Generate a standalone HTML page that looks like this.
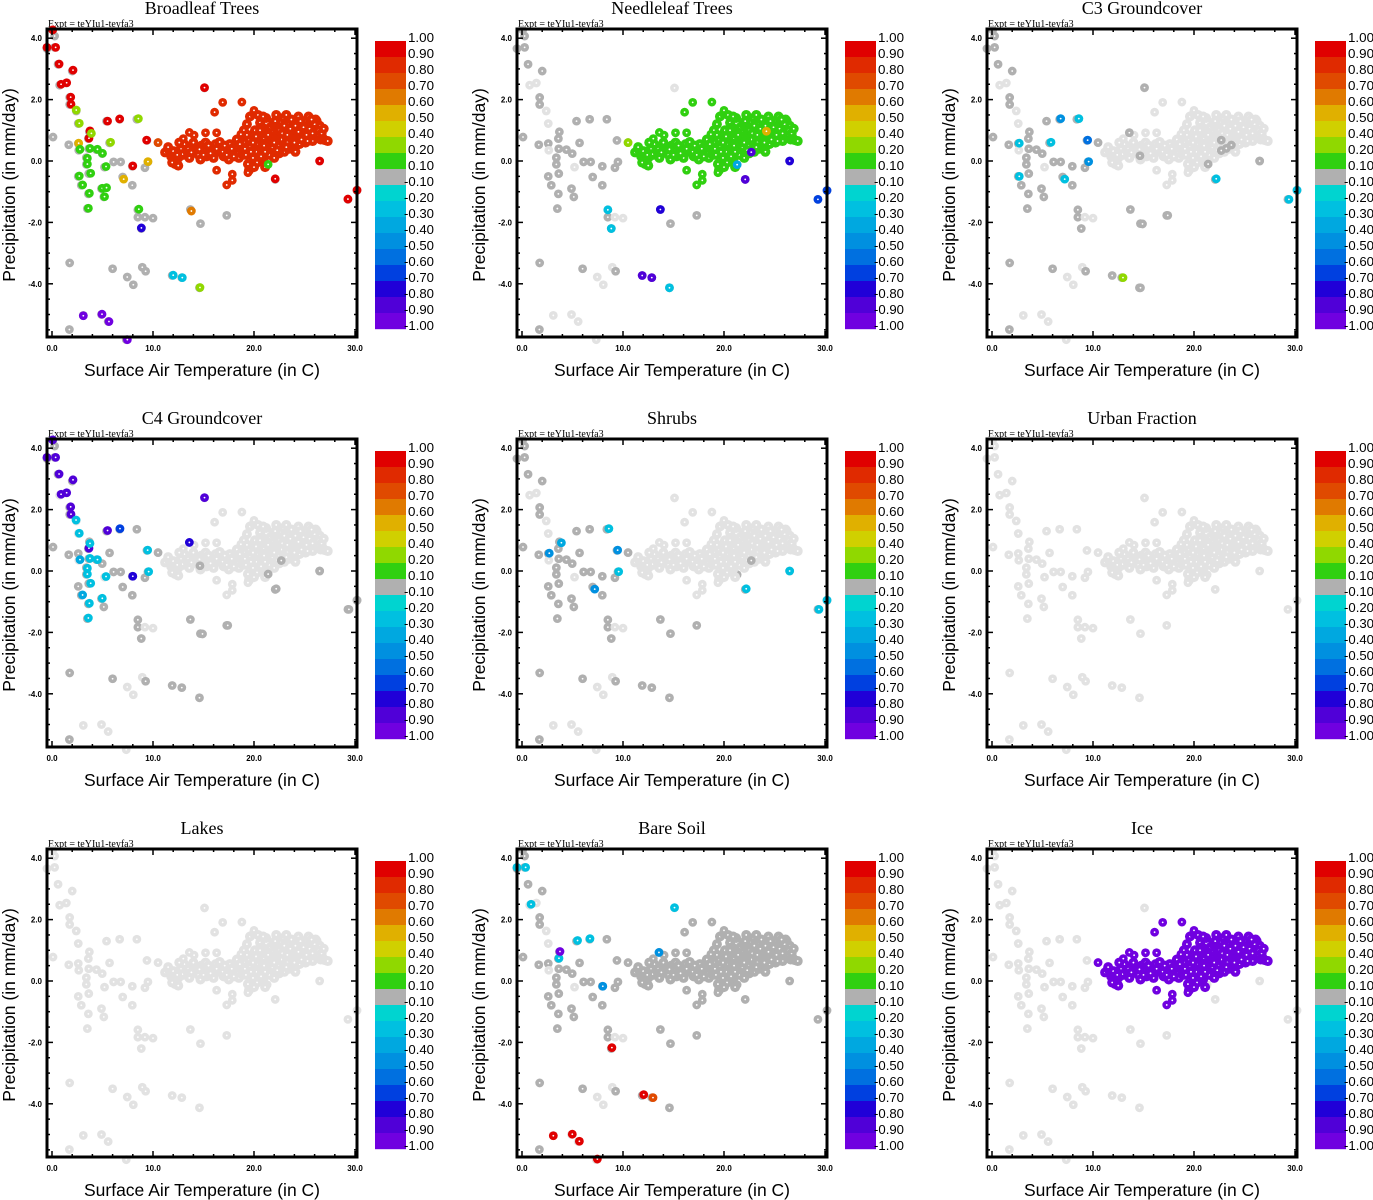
<!DOCTYPE html>
<html><head><meta charset="utf-8"><title>Land cover fractions scatter</title>
<style>
html,body{margin:0;padding:0;background:#fff;}
svg{display:block;}
.ttl{font-family:"Liberation Serif",serif;font-size:18px;}
.expt{font-family:"Liberation Serif",serif;font-size:10px;}
.axl{font-family:"Liberation Sans",sans-serif;font-size:17.5px;}
.tk{font-family:"Liberation Sans",sans-serif;font-size:8px;font-weight:bold;}
.cb{font-family:"Liberation Sans",sans-serif;font-size:13px;}
</style></head>
<body>
<svg id="chart" width="1373" height="1200" viewBox="0 0 1373 1200" xmlns="http://www.w3.org/2000/svg"></svg>
<script>
// ---- data ----
const panelTitles = ["Broadleaf Trees","Needleleaf Trees","C3 Groundcover","C4 Groundcover","Shrubs","Urban Fraction","Lakes","Bare Soil","Ice"];
const xTicks = [0,10,20,30];
const xTickLabels = ["0.0","10.0","20.0","30.0"];
const yTicks = [4,2,0,-2,-4];
const yTickLabels = ["4.0","2.0","0.0","-2.0","-4.0"];
const cbLabels = ["1.00","0.90","0.80","0.70","0.60","0.50","0.40","0.20","0.10","-0.10","-0.20","-0.30","-0.40","-0.50","-0.60","-0.70","-0.80","-0.90","-1.00"];
const cbBounds = [1,0.9,0.8,0.7,0.6,0.5,0.4,0.2,0.1,-0.1,-0.2,-0.3,-0.4,-0.5,-0.6,-0.7,-0.8,-0.9,-1.0];
const cbColors = ["#e00000","#e02a00","#e04a00","#e07a00","#e0b000","#d0d000","#90d800","#30d010","#b0b0b0","#00d4d0","#00c0e0","#00a8e0","#0090e0","#0070e0","#0040e0","#2000d8","#5000d8","#7000e0"];
// cold/scattered points: [temperature, precipitation, shade(1 dark,0 light)]
const coldPts = [[-0.5,3.66,1],[0.26,4.07,1],[0.26,3.70,1],[0.6,3.15,1],[0.76,2.47,0],[1.42,2.54,0],[2.0,2.93,1],[1.75,2.07,1],[1.75,1.84,1],[2.4,1.63,0],[2.6,1.22,0],[0.1,0.78,1],[1.66,0.53,1],[2.6,0.57,1],[2.65,0.35,0],[3.7,0.95,1],[3.6,0.73,1],[3.64,0.40,1],[4.4,0.37,1],[4.97,0.24,1],[5.4,1.30,1],[5.7,0.59,1],[6.7,1.36,1],[8.4,1.36,1],[9.4,0.67,1],[3.4,0.11,1],[3.4,-0.11,1],[2.6,-0.5,1],[2.9,-0.79,1],[3.64,-0.41,1],[3.6,-1.07,1],[3.5,-1.55,1],[4.9,-0.9,1],[5.13,-1.17,1],[5.2,-0.2,0],[6.1,-0.03,1],[6.8,-0.03,1],[7.0,-0.52,1],[7.95,-0.17,1],[7.95,-0.79,1],[9.2,-0.22,1],[9.5,-0.03,1],[8.5,-1.83,1],[9.2,-1.83,0],[10.0,-1.86,0],[8.5,-1.59,1],[8.84,-2.2,1],[13.7,-1.58,1],[14.7,-2.04,1],[17.3,-1.77,1],[1.75,-3.32,1],[6.0,-3.51,1],[7.45,-3.78,0],[8.05,-4.03,0],[8.94,-3.46,0],[9.27,-3.59,1],[11.9,-3.73,1],[12.85,-3.8,1],[14.6,-4.13,1],[3.1,-5.03,0],[4.9,-5.0,0],[5.56,-5.23,0],[1.72,-5.49,1],[7.35,-5.82,0],[15.1,2.38,0],[10.5,0.6,1],[21.3,-0.12,1],[22.1,-0.6,1],[26.5,0.0,1],[29.3,-1.25,1],[30.2,-0.96,1],[0.07,4.27,1]];
// warm cluster points: [temperature, precipitation]
const clusterPts = [[11.2,0.28],[11.6,0.35],[11.8,0.15],[12.0,0.05],[12.2,-0.1],[12.5,-0.15],[12.3,0.3],[12.8,0.4],[13.0,0.2],[13.3,0.35],[13.6,0.1],[13.9,0.45],[14.2,0.3],[14.5,0.2],[14.8,0.5],[15.0,0.35],[15.3,0.15],[15.6,0.4],[15.9,0.25],[16.2,0.55],[16.5,0.3],[16.8,0.45],[17.0,0.15],[17.3,0.35],[17.6,0.55],[17.9,0.25],[18.2,0.45],[18.5,0.1],[18.8,0.35],[19.0,0.6],[13.1,0.55],[14.0,0.6],[15.2,0.6],[16.0,0.1],[17.5,0.05],[18.3,0.7],[12.6,0.6],[11.5,0.45],[14.7,0.05],[16.6,0.62],
[12.0,0.32],[12.9,0.22],[13.5,0.4],[14.3,0.42],[15.0,0.2],[15.7,0.25],[16.3,0.4],[17.1,0.5],[17.8,0.4],[18.6,0.55],[12.5,0.1],[13.8,0.28],[16.9,0.3],[18.0,0.15],[11.9,-0.05],[12.4,0.2],[14.6,0.38],[15.5,0.5],[17.3,0.2],[18.9,0.2],
[19.2,0.2],[19.4,-0.1],[19.5,-0.3],[19.6,0.45],[19.8,0.85],[19.9,0.1],[20.1,1.0],[20.2,0.3],[20.3,-0.05],[20.5,0.65],[20.6,1.25],[20.8,0.4],[20.9,0.05],[21.0,0.9],[21.2,1.4],[21.3,0.6],[21.5,0.2],[21.6,1.1],[21.8,0.45],[21.9,0.8],[19.3,1.2],[19.6,1.45],[20.0,1.55],[20.4,1.5],[20.9,1.45],[19.0,1.0],[19.5,0.7],[20.7,0.15],[21.1,-0.2],[20.0,-0.2],
[19.1,0.4],[19.7,0.3],[20.3,0.55],[20.5,0.85],[20.8,1.1],[21.1,0.3],[21.4,0.85],[21.7,0.6],[19.9,0.6],[20.2,0.8],[19.3,0.85],[21.0,0.5],[20.6,1.0],[21.9,1.2],
[22.1,1.3],[22.3,0.9],[22.4,0.5],[22.6,1.1],[22.7,0.7],[22.9,1.4],[23.0,0.3],[23.1,0.95],[23.3,0.6],[23.4,1.2],[23.6,0.8],[23.7,1.35],[23.9,0.5],[24.0,1.0],[24.2,0.75],[24.3,1.25],[24.5,0.55],[24.6,1.05],[24.8,0.85],[25.0,1.3],[25.1,0.6],[25.3,1.0],[25.5,0.8],[25.6,1.2],[25.8,0.65],[26.0,1.0],[26.1,1.35],[26.3,0.85],[26.5,1.15],[26.6,0.7],[26.8,0.75],[27.0,0.68],[27.3,0.65],[22.0,0.1],[22.5,0.25],[23.5,0.4],[24.1,0.3],[22.2,1.5],[23.2,1.5],[24.4,1.45],[25.4,1.45],[26.2,1.3],
[22.2,0.7],[22.5,1.0],[22.8,0.9],[23.0,1.15],[23.3,0.85],[23.6,1.05],[23.9,0.7],[24.1,1.15],[24.4,0.95],[24.7,0.7],[24.9,1.1],[25.2,0.85],[25.5,1.05],[25.8,0.9],[26.0,1.2],[26.4,1.0],[26.7,0.9],[26.9,1.05],[22.3,0.35],[23.2,0.45],[24.6,1.3],[25.7,1.35],[22.0,0.6],[24.0,0.6],[25.3,0.65]];
// per-panel base values: null = light grey (none), number = colour value
const clusterValues = [0.85,0.15,null,null,null,null,null,0,-0.95];
const coldModes = ["dark","shade","shade","shade","shade","light","light","shade","light"];
// outlier points belonging to the cluster (same colour as cluster)
const clusterOutliers = [[16.1,1.59],[16.9,1.91],[18.8,1.92],[13.6,0.93],[13.0,0.73],[14.07,0.84],[15.2,0.92],[16.3,0.92],[16.3,-0.3],[17.3,-0.78],[17.85,-0.43],[17.85,-0.63],[19.4,-0.38],[18.7,0.87],[20.0,1.65]];
// per-panel coloured overlay points [T,P,value]
const overlay1 = [[0.07,4.27,0.95],[-0.5,3.7,0.95],[0.36,3.7,0.95],[0.7,3.16,0.95],[2.08,2.96,0.95],[0.9,2.5,0.95],[1.45,2.55,0.95],[1.85,2.08,0.95],[1.88,1.85,0.95],[5.5,1.3,0.95],[6.7,1.37,0.95],[3.76,0.98,0.95],[3.66,0.74,0.95],[9.37,0.68,0.95],[8.0,-0.16,0.95],[15.1,2.39,0.95],[26.5,0,0.95],[22.1,-0.58,0.95],[29.3,-1.24,0.95],[30.2,-0.95,0.95],[10.5,0.6,0.75],
[2.4,1.66,0.35],[2.7,1.23,0.35],[8.55,1.38,0.35],[5.8,0.61,0.35],[3.9,0.9,0.35],[14.65,-4.12,0.35],[2.64,0.58,0.55],[9.5,-0.02,0.55],[7.1,-0.59,0.55],[13.8,-1.63,0.65],
[2.77,0.38,0.15],[3.76,0.41,0.15],[4.5,0.38,0.15],[5.0,0.25,0.15],[3.5,0.09,0.15],[3.5,-0.1,0.15],[5.35,-0.18,0.15],[2.7,-0.49,0.15],[3.83,-0.40,0.15],[3.03,-0.78,0.15],[3.7,-1.05,0.15],[4.98,-0.89,0.15],[5.4,-0.87,0.15],[5.2,-1.16,0.15],[3.6,-1.54,0.15],[8.6,-1.57,0.15],[21.4,-0.11,0.15],
[12.0,-3.72,-0.25],[12.9,-3.8,-0.25],[8.85,-2.18,-0.75],[3.1,-5.04,-0.95],[4.95,-4.99,-0.95],[5.64,-5.23,-0.95],[7.46,-5.82,-0.95]];
const overlay2 = [[10.5,0.6,0.35],[8.5,-1.59,-0.25],[8.84,-2.2,-0.25],[13.7,-1.58,-0.75],[11.9,-3.73,-0.85],[12.85,-3.8,-0.85],[14.6,-4.13,-0.25],[21.3,-0.12,-0.35],[22.1,-0.6,-0.85],[26.5,0,-0.75],[22.7,0.29,-0.85],[29.3,-1.25,-0.65],[30.2,-0.96,-0.65],[24.2,0.97,0.55]];
const overlay3 = [[13.6,0.92,0],[14.65,0.17,0],[22.7,0.68,0],[22.7,0.34,0],[23.2,0.41,0],[23.7,0.52,0],[21.4,-0.1,0],[26.5,0,0],[15.1,2.39,0],[17.4,-1.77,0],[14.9,-2.05,0],[14.7,-4.13,0],
[2.7,0.58,-0.25],[5.84,0.61,-0.25],[8.6,1.38,-0.25],[2.7,-0.5,-0.25],[7.2,-0.59,-0.25],[22.2,-0.58,-0.25],[29.4,-1.25,-0.25],[30.2,-0.95,-0.25],[6.8,1.38,-0.45],[9.47,0.68,-0.55],[9.57,-0.02,-0.45],[12.97,-3.8,0.3]];
const overlay4 = [[14.65,0.17,0],[22.7,0.34,0],[21.4,-0.1,0],[22.2,-0.58,0],[26.5,0,0],[17.4,-1.77,0],[14.9,-2.05,0],[29.4,-1.25,0],[30.2,-0.95,0],
[0.07,4.27,-0.9],[-0.5,3.7,-0.9],[0.36,3.7,-0.9],[0.7,3.16,-0.9],[2.08,2.97,-0.9],[0.9,2.5,-0.9],[1.45,2.55,-0.9],[1.85,2.09,-0.9],[1.88,1.85,-0.9],[15.1,2.39,-0.9],[5.5,1.32,-0.9],[3.66,0.74,-0.9],
[6.73,1.38,-0.65],[13.6,0.93,-0.75],[8.0,-0.17,-0.75],
[2.38,1.66,-0.25],[2.7,1.23,-0.3],[3.76,0.9,-0.25],[9.47,0.68,-0.25],[2.77,0.37,-0.35],[3.76,0.41,-0.25],[4.5,0.37,-0.25],[3.5,0.09,-0.25],[3.5,-0.1,-0.25],[5.35,-0.18,-0.3],[3.83,-0.4,-0.3],[3.03,-0.78,-0.4],[3.7,-1.05,-0.25],[4.98,-0.89,-0.25],[3.6,-1.53,-0.25],[9.57,-0.02,-0.25]];
const overlay5 = [[22.7,0.34,0],[8.6,1.38,-0.25],[3.9,0.92,-0.4],[2.7,0.58,-0.5],[9.47,0.68,-0.5],[9.57,-0.02,-0.25],[7.2,-0.59,-0.45],[22.2,-0.58,-0.25],[26.5,0,-0.25],[29.4,-1.25,-0.25],[30.2,-0.95,-0.25]];
const overlay6 = [];
const overlay7 = [];
const overlay8 = [[-0.5,3.7,-0.25],[0.36,3.7,-0.25],[0.9,2.5,-0.25],[15.1,2.39,-0.25],[5.5,1.32,-0.25],[6.73,1.38,-0.25],[3.66,0.74,-0.25],[3.76,0.96,-0.95],[13.56,0.93,-0.45],[8.0,-0.17,-0.45],
[8.9,-2.17,0.95],[12.05,-3.7,0.95],[12.97,-3.8,0.75],[3.1,-5.04,0.95],[4.98,-4.99,0.95],[5.68,-5.22,0.95],[7.46,-5.8,0.95]];
const overlay9 = [[10.5,0.6,-0.95]];
const overlays = [overlay1,overlay2,overlay3,overlay4,overlay5,overlay6,overlay7,overlay8,overlay9];

// ---- drawing ----
const NS = "http://www.w3.org/2000/svg";
const svg = document.getElementById("chart");
const LIGHT = "#e2e2e2", DARK = "#b0b0b0";
function mk(tag, attrs, parent){const e=document.createElementNS(NS,tag);for(const k in attrs)e.setAttribute(k,attrs[k]);(parent||svg).appendChild(e);return e;}
function colorFor(v){
  if(v===null) return LIGHT;
  for(let i=0;i<cbColors.length;i++){ if(v<=cbBounds[i] && v>=cbBounds[i+1]) return cbColors[i]; }
  return v>1?cbColors[0]:cbColors[cbColors.length-1];
}
function slug(s){return s.toLowerCase().replace(/[^a-z0-9]+/g,'-');}

panelTitles.forEach((title,pi)=>{
  const dx = (pi%3)*470, dy = Math.floor(pi/3)*410;
  const X = t => dx + 52 + 10.1*t;
  const Y = p => dy + 161 - 30.7*p;
  const g = mk("g",{});
  
  
  const t = mk("text",{x:dx+202,y:dy+14,"text-anchor":"middle",class:"ttl"},g); t.textContent=title;
  
  
  const ex = mk("text",{x:dx+48,y:dy+27,class:"expt"},g); ex.textContent="Expt = teYIu1-teyfa3";
  
  
  const yl = mk("text",{x:0,y:0,"text-anchor":"middle",class:"axl",transform:`translate(${dx+15},${dy+185}) rotate(-90)`},g); yl.textContent="Precipitation (in mm/day)";
  
  
  const xl = mk("text",{x:dx+202,y:dy+376,"text-anchor":"middle",class:"axl"},g); xl.textContent="Surface Air Temperature (in C)";
  
  
  const pts = mk("g",{},g);
  
  
  function dot(tt,pp,col,r){
    const c = mk("circle",{cx:X(tt),cy:Y(pp),r:r||4.4,fill:col},pts);
    
    
    mk("circle",{cx:X(tt),cy:Y(pp),r:0.9,fill:"#fff"},pts);
  }
  const mode = coldModes[pi];
  coldPts.forEach(q=>{
    let col = mode==="dark"?DARK:mode==="light"?LIGHT:(q[2]?DARK:LIGHT);
    dot(q[0],q[1],col);
  });
  const cv = clusterValues[pi];
  clusterPts.forEach(q=>dot(q[0],q[1],colorFor(cv),5));
  clusterOutliers.forEach(q=>dot(q[0],q[1],colorFor(cv)));
  overlays[pi].forEach(q=>dot(q[0],q[1],colorFor(q[2])));
  const fr = mk("rect",{x:dx+47,y:dy+29,width:310,height:308,fill:"none",stroke:"#000","stroke-width":3},g);
  
  
  for(let tv=0; tv<=30; tv+=2){
    const major = tv%10===0, L = major?6:3;
    mk("line",{x1:X(tv),x2:X(tv),y1:dy+337,y2:dy+337-L,stroke:"#000","stroke-width":1.5},g);
    mk("line",{x1:X(tv),x2:X(tv),y1:dy+29,y2:dy+29+L,stroke:"#000","stroke-width":1.5},g);
  }
  for(let k=-11;k<=8;k++){
    const pv=k*0.5, major = k%4===0, L = major?6:3;
    if(Y(pv)<dy+29||Y(pv)>dy+337) continue;
    mk("line",{x1:dx+47,x2:dx+47+L,y1:Y(pv),y2:Y(pv),stroke:"#000","stroke-width":1.5},g);
    mk("line",{x1:dx+357,x2:dx+357-L,y1:Y(pv),y2:Y(pv),stroke:"#000","stroke-width":1.5},g);
  }
  xTicks.forEach((tv,i)=>{
    const l = mk("text",{x:X(tv),y:dy+351,"text-anchor":"middle",class:"tk"},g); l.textContent=xTickLabels[i];
    
    
  });
  yTicks.forEach((pv,i)=>{
    const l = mk("text",{x:dx+42,y:Y(pv)+3,"text-anchor":"end",class:"tk"},g); l.textContent=yTickLabels[i];
    
    
  });
  const cb = mk("g",{},g);
  
  
  cbColors.forEach((c,i)=>{
    const r = mk("rect",{x:dx+375,y:dy+41+i*16,width:31,height:16.2,fill:c},cb);
    
    
  });
  cbLabels.forEach((s,i)=>{
    const w = s.startsWith('-') ? 30 : 26;
    const l = mk("text",{x:dx+434-w,y:dy+42+i*16,class:"cb",textLength:w,lengthAdjust:"spacingAndGlyphs"},cb); l.textContent=s;
    
    
  });
});
</script>
</body></html>
